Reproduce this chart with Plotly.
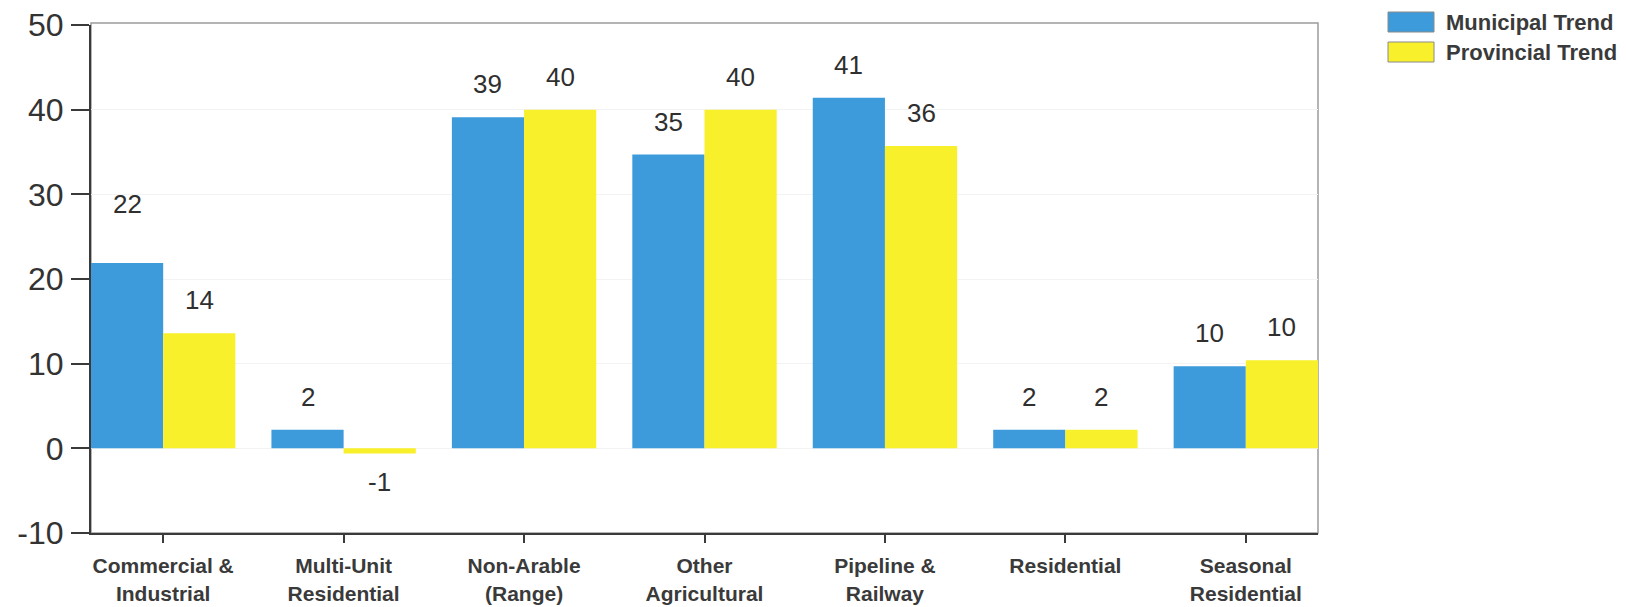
import plotly.graph_objects as go

# Assessment trend by property class (%)
categories = [
    "Commercial &<br>Industrial",
    "Multi-Unit<br>Residential",
    "Non-Arable<br>(Range)",
    "Other<br>Agricultural",
    "Pipeline &<br>Railway",
    "Residential",
    "Seasonal<br>Residential",
]
municipal = [21.9, 2.2, 39.1, 34.7, 41.4, 2.2, 9.7]
provincial = [13.6, -0.6, 40.0, 40.0, 35.7, 2.2, 10.4]
series_names = ["Municipal Trend", "Provincial Trend"]
y_ticks = [-10, 0, 10, 20, 30, 40, 50]
y_tick_text = ["-10", "0", "10", "20", "30", "40", "50"]

BLUE = "#3d9bdc"
YELLOW = "#f8f02a"
TEXT = "#2f2f2f"
FONT = "Liberation Sans"

idx = list(range(len(categories)))

fig = go.Figure()
fig.add_trace(go.Bar(x=idx, y=municipal, name=series_names[0],
                     marker=dict(color=BLUE, line=dict(width=0))))
fig.add_trace(go.Bar(x=idx, y=provincial, name=series_names[1],
                     marker=dict(color=YELLOW, line=dict(width=0))))

# value labels above (or below) each bar
half = 0.2
nudge = {(0, 0): 26}  # lift the first label a little further
annotations = []
for s, vals in enumerate([municipal, provincial]):
    for i, v in enumerate(vals):
        shift = 33 if v >= 0 else -29
        shift += nudge.get((s, i), 0)
        annotations.append(dict(
            x=i - half if s == 0 else i + half, y=v, xref="x", yref="y",
            text=f"{round(v):d}", showarrow=False, yshift=shift,
            yanchor="middle", xanchor="center",
            font=dict(family=FONT, size=26, color=TEXT)))

# legend drawn at the top right
L, T, W, H = 91, 25, 1227, 508
legend_items = [(series_names[0], BLUE, 22), (series_names[1], YELLOW, 52)]
shapes = [dict(type="rect", xref="paper", yref="paper", x0=0, x1=1, y0=0, y1=1.004,
               line=dict(color="#9c9c9c", width=1.5), layer="below")]
for name, col, yc in legend_items:
    shapes.append(dict(type="rect", xref="paper", yref="paper",
                       x0=(1388 - L) / W, x1=(1434 - L) / W,
                       y0=(T + H - (yc + 10)) / H, y1=(T + H - (yc - 10)) / H,
                       fillcolor=col, line=dict(color="#8a8a8a", width=1)))
    annotations.append(dict(xref="paper", yref="paper",
                            x=(1444 - L) / W, y=(T + H - yc) / H,
                            text=f"<b>{name}</b>", showarrow=False, xanchor="left",
                            yanchor="middle",
                            font=dict(family=FONT, size=22, color="#3a3a3a")))

fig.update_layout(
    width=1626, height=607,
    margin=dict(l=L, r=1626 - L - W, t=T, b=607 - T - H),
    paper_bgcolor="white", plot_bgcolor="white",
    barmode="group", bargap=0.2, bargroupgap=0,
    showlegend=False,
    annotations=annotations, shapes=shapes,
    font=dict(family=FONT, color=TEXT),
)
fig.update_xaxes(
    range=[-0.4, 6.4], tickmode="array", tickvals=idx,
    ticktext=[f"<b>{c}</b>" for c in categories],
    showline=True, linecolor="#3a3a3a", linewidth=2,
    ticks="outside", ticklen=8, tickcolor="#3a3a3a", tickwidth=1.5,
    showgrid=False, zeroline=False, ticklabelstandoff=5, automargin=False,
    tickfont=dict(family=FONT, size=21, color="#3a3a3a"),
)
fig.update_yaxes(
    range=[-10, 50], tickmode="array", tickvals=y_ticks, ticktext=y_tick_text,
    showline=True, linecolor="#3a3a3a", linewidth=2,
    ticks="outside", ticklen=18, tickcolor="#3a3a3a", tickwidth=1.5,
    showgrid=True, gridcolor="#f3f3f3", zeroline=False,
    ticklabelstandoff=1, automargin=False,
    tickfont=dict(family=FONT, size=32, color="#333333"),
)

fig.write_html("out.html")
